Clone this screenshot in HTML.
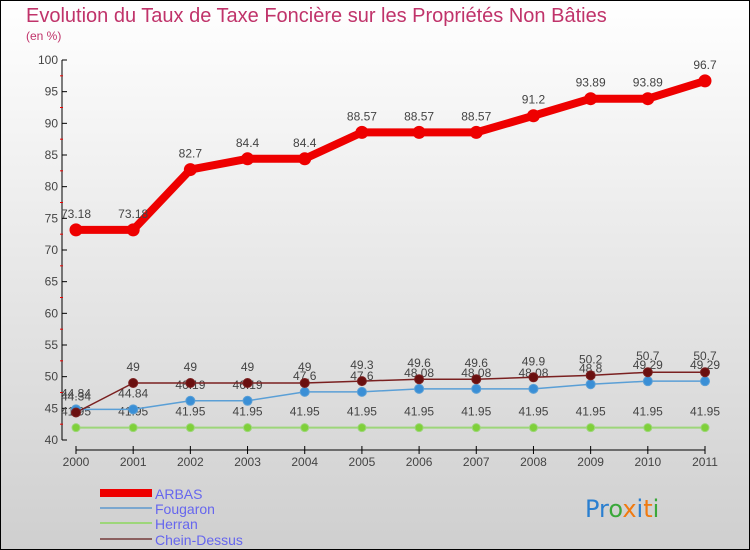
<!DOCTYPE html>
<html><head><meta charset="utf-8"><style>
body{margin:0;width:750px;height:550px;overflow:hidden;font-family:"Liberation Sans",sans-serif}
svg{display:block}
</style></head><body>
<svg id="chart" width="750" height="550" xmlns="http://www.w3.org/2000/svg">
<defs><linearGradient id="bg" x1="0" y1="0" x2="0" y2="1"><stop offset="0" stop-color="#ffffff"/><stop offset="1" stop-color="#cfcfcf"/></linearGradient></defs>
<rect x="0.5" y="0.5" width="749" height="549" fill="url(#bg)" stroke="#000"/>
<text x="26" y="22" font-size="20" fill="#c0336a">Evolution du Taux de Taxe Foncière sur les Propriétés Non Bâties</text>
<text x="26" y="40" font-size="12" fill="#c0336a">(en %)</text>
<g id="axes"></g><g id="series"></g>
<g>
<rect x="100" y="489" width="52" height="8" fill="#e00"/>
<text x="155" y="499" font-size="14" fill="#6666ee">ARBAS</text>
<rect x="100" y="507" width="52" height="2" fill="#7ba7cf"/>
<text x="155" y="514" font-size="14" fill="#6666ee">Fougaron</text>
<rect x="100" y="522" width="52" height="2" fill="#9dd67a"/>
<text x="155" y="529" font-size="14" fill="#6666ee">Herran</text>
<rect x="100" y="538" width="52" height="2" fill="#8b6060"/>
<text x="155" y="545" font-size="14" fill="#6666ee">Chein-Dessus</text>
</g>
<text x="585" y="517" font-size="24" font-family="DejaVu Sans"><tspan fill="#2a7fd0">Pr</tspan><tspan fill="#3aa83a">o</tspan><tspan fill="#f07a10">x</tspan><tspan fill="#2a7fd0">i</tspan><tspan fill="#f07a10">t</tspan><tspan fill="#3aa83a">i</tspan></text>
</svg>
<script>
const years=[2000,2001,2002,2003,2004,2005,2006,2007,2008,2009,2010,2011];
const arbas=[73.18,73.18,82.7,84.4,84.4,88.57,88.57,88.57,91.2,93.89,93.89,96.7];
const fougaron=[44.84,44.84,46.19,46.19,47.6,47.6,48.08,48.08,48.08,48.8,49.29,49.29];
const herran=[41.95,41.95,41.95,41.95,41.95,41.95,41.95,41.95,41.95,41.95,41.95,41.95];
const chein=[44.34,49,49,49,49,49.3,49.6,49.6,49.9,50.2,50.7,50.7];
const yTicks=[40,45,50,55,60,65,70,75,80,85,90,95,100];
const NS="http://www.w3.org/2000/svg";
const x=i=>76+i*(705-76)/(years.length-1);
const y=v=>440-(v-40)*(380/60);
function mk(t,a,p){const e=document.createElementNS(NS,t);for(const k in a)e.setAttribute(k,a[k]);p.appendChild(e);return e;}
const ax=document.getElementById('axes');
let e=mk('line',{x1:62,y1:y(100),x2:62,y2:y(40),stroke:'#000'},ax);


yTicks.forEach(v=>{
 mk('line',{x1:62,y1:y(v),x2:67,y2:y(v),stroke:'#000'},ax);
 if(v<100)mk('line',{x1:60,y1:y(v+2.5),x2:63,y2:y(v+2.5),stroke:'#e00'},ax);
 const t=mk('text',{x:58,y:y(v)+4,'font-size':12,'text-anchor':'end',fill:'#444'},ax);t.textContent=v;
 
 
});
e=mk('line',{x1:x(0),y1:450,x2:x(11),y2:450,stroke:'#000'},ax);


years.forEach((yr,i)=>{
 mk('line',{x1:x(i),y1:446,x2:x(i),y2:454,stroke:'#000'},ax);
 const t=mk('text',{x:x(i),y:466,'font-size':12,'text-anchor':'middle',fill:'#444'},ax);t.textContent=yr;
 
 
});
const sg=document.getElementById('series');
function draw(name,vals,col,w,r,dotFill,labOff){
 const g=mk('g',{},sg);
 
 
 mk('polyline',{points:vals.map((v,i)=>x(i)+','+y(v)).join(' '),fill:'none',stroke:col,'stroke-width':w,'stroke-linejoin':'round'},g);
 vals.forEach((v,i)=>{
  const c=mk('circle',{cx:x(i),cy:y(v),r:r,fill:dotFill,stroke:col,'stroke-width':1},g);
  
  
  const t=mk('text',{x:x(i),y:y(v)+labOff,'font-size':12,'text-anchor':'middle',fill:'#444'},g);t.textContent=v;
  
  
 });
}
draw('herran',herran,'#9dd67a',2,4,'#7fd03a',-12);
draw('fougaron',fougaron,'#5a9fd6',1.5,4.5,'#3a8fd6',-12);
draw('chein-dessus',chein,'#7a2020',1.5,4.5,'#6a1010',-12);
draw('arbas',arbas,'#ee0000',8,6,'#ee0000',-12);
</script>
</body></html>
